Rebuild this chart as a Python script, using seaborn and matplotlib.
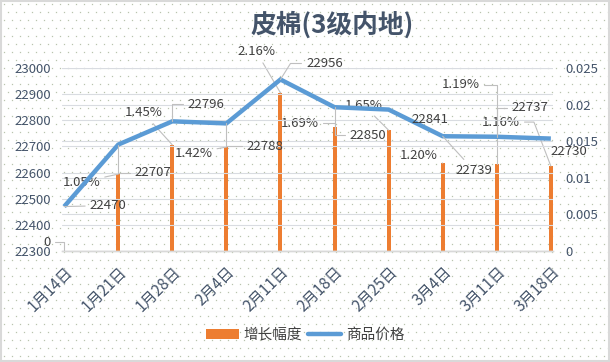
import numpy as np
import pandas as pd
import matplotlib
matplotlib.use("Agg")
import matplotlib.pyplot as plt
import seaborn as sns
from matplotlib.patches import Patch, Rectangle
from matplotlib.lines import Line2D

sns.set_theme(style="white")
plt.rcParams['font.family'] = ['Noto Sans CJK SC', 'DejaVu Sans']

# ---- data ----
dates = ["1月14日", "1月21日", "1月28日", "2月4日", "2月11日",
         "2月18日", "2月25日", "3月4日", "3月11日", "3月18日"]
prices = [22470, 22707, 22796, 22788, 22956, 22850, 22841, 22739, 22737, 22730]
growth = [0.0, 0.0105, 0.0145, 0.0142, 0.0216, 0.0169, 0.0165, 0.0120, 0.0119, 0.0116]
growth_labels = ["0", "1.05%", "1.45%", "1.42%", "2.16%", "1.69%", "1.65%", "1.20%", "1.19%", "1.16%"]
left_ticks = [22300, 22400, 22500, 22600, 22700, 22800, 22900, 23000]
right_ticks = [0, 0.005, 0.01, 0.015, 0.02, 0.025]
right_tick_labels = ["0", "0.005", "0.01", "0.015", "0.02", "0.025"]

title = "皮棉(3级内地)"
bar_name = "增长幅度"
line_name = "商品价格"

df = pd.DataFrame({"pos": np.arange(len(dates)), "date": dates,
                   "price": prices, "growth": growth})

W, H = 610, 362
fig = plt.figure(figsize=(W / 100, H / 100), dpi=100)
fig.patch.set_facecolor("white")

# dotted background + border
gx, gy = np.meshgrid(np.arange(4, W, 8), np.arange(4, H, 8))
gx = gx.astype(float)
gx[1::2] += 4
fig.add_artist(Line2D(gx.ravel() / W, 1 - gy.ravel() / H, transform=fig.transFigure,
                      ls="none", marker="s", ms=0.9, mec="none", mfc="#b9c4ae", zorder=-5))
fig.add_artist(Rectangle((0.002, 0.003), 0.996, 0.994, transform=fig.transFigure,
                         fill=False, ec="#d9d9d9", lw=1.5, zorder=-4))

ax = fig.add_axes([62 / W, 1 - 251 / H, (553 - 62) / W, (251 - 68) / H])
ax.patch.set_visible(False)
ax2 = ax.twinx()

orange = "#ED7D31"
blue = "#5B9BD5"
txt = "#404040"
tickc = "#44546A"

sns.barplot(data=df, x="pos", y="growth", ax=ax, native_scale=True,
            color=orange, width=0.075, saturation=1, edgecolor="none", errorbar=None)
sns.lineplot(data=df, x="pos", y="price", ax=ax2, color=blue, lw=3.2,
             solid_capstyle="butt", solid_joinstyle="miter")

ax.set_xlim(-0.04, 9.04)
ax.set_ylim(0, 0.025)
ax2.set_ylim(22300, 23000)

ax.yaxis.tick_right()
ax2.yaxis.tick_left()
ax.set_yticks(right_ticks, right_tick_labels)
ax2.set_yticks(left_ticks, [str(t) for t in left_ticks])
ax.set_xticks(df["pos"], dates)
for lab in ax.get_xticklabels():
    lab.set_rotation(45)
    lab.set_ha("right")
    lab.set_rotation_mode("anchor")
ax.tick_params(axis="x", length=4, color="#bfbfbf", width=0.8, pad=5, labelsize=11, labelcolor=tickc)
ax.tick_params(axis="y", length=0, pad=9, labelsize=9.5, labelcolor=tickc)
ax2.tick_params(axis="y", length=0, pad=8, labelsize=9.5, labelcolor=tickc)
ax.set_xlabel(""); ax.set_ylabel(""); ax2.set_xlabel(""); ax2.set_ylabel("")

ax.grid(axis="y", color="#d9dce1", lw=0.8)
ax2.grid(axis="y", color="#d9dce1", lw=0.8)
ax.set_axisbelow(True)
ax2.set_axisbelow(True)
for a in (ax, ax2):
    for s in ("left", "right", "top"):
        a.spines[s].set_visible(False)
    a.spines["bottom"].set_color("#d9d9d9")
    a.spines["bottom"].set_linewidth(1)


def lead(conn=None):
    d = dict(arrowstyle="-", color="#bfbfbf", lw=0.8, shrinkA=1, shrinkB=0)
    if conn is not None:
        d["connectionstyle"] = conn
    return d


down = "angle,angleA=0,angleB=90,rad=0"

# price labels: (dx, dy) in pixels, leader style
price_off = [(44, 1, lead()), (35, -28, lead(down)), (34, 17, lead(down)), (39, -23, lead(down)),
             (44, 16, lead("angle,angleA=0,angleB=58,rad=0")), (33, -28, lead(down)), (41, -10, None),
             (31, -34, lead()), (33, 29, lead(down)), (18, -13, None)]
for i, (dx, dy, ap) in enumerate(price_off):
    ax2.annotate(str(prices[i]), xy=(i, prices[i]), xytext=(dx, dy), textcoords="offset pixels",
                 ha="center", va="center", fontsize=9.5, color=txt,
                 arrowprops=ap, annotation_clip=False)

growth_off = [(-17, 9, lead(down)), (-37, -8, lead()), (-29, 32, lead()), (-33, -6, lead()),
              (-24, 41, lead()), (-35, 4, lead(down)), (-25, 25, lead()), (-24, 8, lead()),
              (-36, 79, lead(down)), (-50, 44, lead("angle,angleA=0,angleB=111,rad=0"))]
for i, (dx, dy, ap) in enumerate(growth_off):
    ax.annotate(growth_labels[i], xy=(i, growth[i]), xytext=(dx, dy), textcoords="offset pixels",
                ha="center", va="center", fontsize=9.5, color=txt,
                arrowprops=ap, annotation_clip=False)

fig.text(332 / W, 1 - 25 / H, title, ha="center", va="center", fontsize=18.5,
         fontweight="bold", color="#44546A")

handles = [Patch(facecolor=orange, edgecolor="none"),
           Line2D([0], [0], color=blue, lw=3.2)]
fig.legend(handles, [bar_name, line_name], loc="center", bbox_to_anchor=(0.5, 1 - 335 / H),
           ncol=2, frameon=False, fontsize=10.5, handlelength=2.3, handleheight=0.6,
           columnspacing=0.4, handletextpad=0.3, labelcolor=txt)

fig.savefig("out.png", dpi=100)
